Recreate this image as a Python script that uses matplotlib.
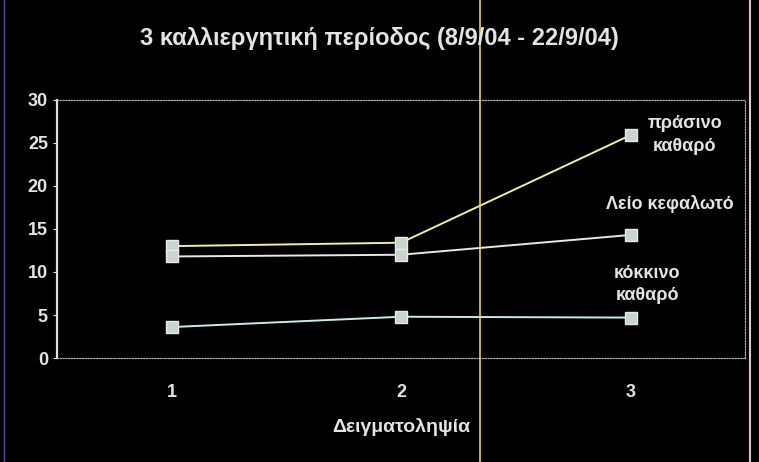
import matplotlib
matplotlib.use("Agg")
import matplotlib.pyplot as plt
from matplotlib.lines import Line2D

# data
samples = [1, 2, 3]
prasino = [13.0, 13.4, 25.9]
leio = [11.8, 12.0, 14.3]
kokkino = [3.6, 4.8, 4.7]
series_names = ["πράσινο\nκαθαρό", "Λείο κεφαλωτό", "κόκκινο\nκαθαρό"]

plt.rcParams['font.family'] = ['Liberation Sans', 'DejaVu Sans']
plt.rcParams['font.weight'] = 'bold'

fig = plt.figure(figsize=(7.59, 4.62), dpi=100, facecolor='black')
ax = fig.add_axes([0.075, 0.225, 0.907, 0.559], facecolor='black')

txt = '#e4e4e4'
colors = ['#f2eea0', '#e8e8e8', '#c8ecec']
for vals, c in zip([prasino, leio, kokkino], colors):
    ax.plot(samples, vals, color=c, lw=1.4, marker='s', markersize=9,
            markerfacecolor='#c9d4cc', markeredgecolor='#ece8f0', zorder=3)

# series names as data labels at the last point
ax.annotate(series_names[0], (samples[2], prasino[2]), xytext=(12, 0),
            textcoords='offset points', color=txt, fontsize=13,
            ha='left', va='center', linespacing=1.4, multialignment='center')
ax.annotate(series_names[1], (samples[2], leio[2]), xytext=(28, 16),
            textcoords='offset points', color=txt, fontsize=13,
            ha='center', va='bottom')
ax.annotate(series_names[2], (samples[2], kokkino[2]), xytext=(12, 10),
            textcoords='offset points', color=txt, fontsize=13,
            ha='center', va='bottom', linespacing=1.4)

ax.set_xlim(0.5, 3.5)
ax.set_ylim(0, 30)
ax.set_xticks(samples)
ax.set_yticks(range(0, 31, 5))
ax.tick_params(colors=txt, labelsize=13, length=3)
ax.tick_params(axis='x', length=0, pad=19)

for side in ['top', 'bottom', 'right']:
    ax.spines[side].set_color('#bbbbbb')
    ax.spines[side].set_linestyle((0, (1, 1.5)))
    ax.spines[side].set_linewidth(0.8)
ax.spines['left'].set_color('#e0e0e0')
ax.spines['left'].set_linewidth(1.6)

ax.set_xlabel("Δειγματοληψία", color=txt, fontsize=14, fontweight='bold',
              labelpad=12)
fig.text(0.5, 0.917, "3 καλλιεργητική περίοδος (8/9/04 - 22/9/04)",
         color=txt, fontsize=17, ha='center', va='center')

# scan artefacts: thin vertical line and outer frame
fig.add_artist(Line2D([0.633, 0.633], [0, 1], color='#e8d060', lw=1.2))
fig.add_artist(Line2D([0.988, 0.988], [0.0, 1.0], color='#d8c8c8', lw=1.5))
fig.add_artist(Line2D([0.005, 0.005], [0.0, 1.0], color='#5050a0', lw=1))

fig.savefig("out.png", dpi=100, facecolor='black')
